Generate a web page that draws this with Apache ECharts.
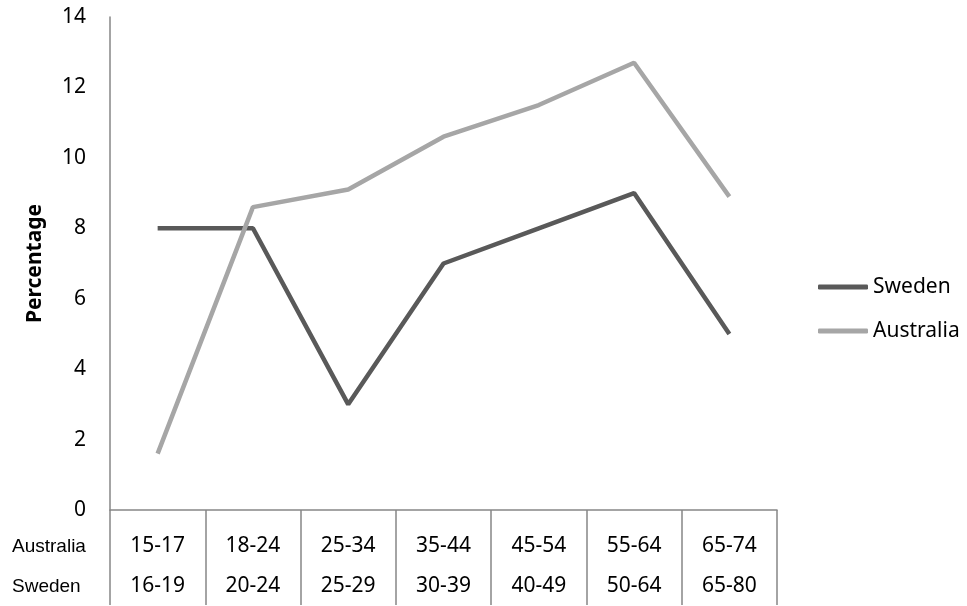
<!DOCTYPE html>
<html>
<head>
<meta charset="utf-8">
<script src="https://cdn.jsdelivr.net/npm/echarts@6/dist/echarts.min.js"></script>
<style>
  html, body { margin: 0; padding: 0; background: #fff; }
  #chart-dev { width: 967px; height: 606px; }
</style>
</head>
<body>
<div id="chart-dev"></div>
<script>
var australiaGroups = ['15-17', '18-24', '25-34', '35-44', '45-54', '55-64', '65-74'];
var swedenGroups = ['16-19', '20-24', '25-29', '30-39', '40-49', '50-64', '65-80'];
var sweden = [8, 8, 3, 7, 8, 9, 5];
var australia = [1.6, 8.6, 9.1, 10.6, 11.5, 12.7, 8.9];
var rowNames = ['Australia', 'Sweden'];

var categories = australiaGroups.map(function (a, i) {
    return a + '\n' + swedenGroups[i];
});

var dom = document.getElementById('chart-dev');
var myChart = echarts.init(dom, null, {
    renderer: 'canvas',
    useDirtyRect: false
});

var font = 'Noto Sans';
var axisGray = '#868686';

var option = {
    animation: false,
    textStyle: { fontFamily: font },
    grid: { left: 110, right: 190, top: 17, bottom: 93 },
    legend: {
        orient: 'vertical',
        left: 813,
        top: 270,
        itemGap: 20,
        itemWidth: 50,
        itemHeight: 5,
        textStyle: { fontFamily: font, fontSize: 21, color: '#000', lineHeight: 24 },
        data: [
            { name: 'Sweden', icon: 'roundRect' },
            { name: 'Australia', icon: 'roundRect' }
        ]
    },
    xAxis: {
        type: 'category',
        data: categories,
        boundaryGap: true,
        axisLine: { show: true, lineStyle: { color: axisGray, width: 1.5 } },
        axisTick: { show: true, length: 95, lineStyle: { color: axisGray, width: 1.5 } },
        axisLabel: {
            margin: 16,
            fontFamily: font,
            fontSize: 21,
            lineHeight: 40,
            color: '#000'
        },
        splitLine: { show: false }
    },
    yAxis: {
        type: 'value',
        min: 0,
        max: 14,
        interval: 2,
        name: 'Percentage',
        nameLocation: 'middle',
        nameGap: 64,
        nameTextStyle: { fontFamily: font, fontSize: 21, fontWeight: 'bold', color: '#000' },
        axisLine: { show: true, lineStyle: { color: axisGray, width: 1.5 } },
        axisTick: { show: false },
        axisLabel: { margin: 24, fontFamily: font, fontSize: 21, color: '#000' },
        splitLine: { show: false }
    },
    graphic: rowNames.map(function (n, i) {
        return {
            type: 'text',
            left: 12,
            top: 537 + i * 40,
            style: { text: n, font: '19px "Liberation Sans"', fill: '#000' }
        };
    }),
    color: ['#595959', '#a6a6a6'],
    series: [
        {
            name: 'Sweden',
            type: 'line',
            data: sweden,
            showSymbol: false,
            lineStyle: { width: 4.5, color: '#595959' },
            itemStyle: { color: '#595959' }
        },
        {
            name: 'Australia',
            type: 'line',
            data: australia,
            showSymbol: false,
            lineStyle: { width: 4.5, color: '#a6a6a6' },
            itemStyle: { color: '#a6a6a6' }
        }
    ]
};

if (option && typeof option === 'object') {
    myChart.setOption(option);
}

window.addEventListener('resize', myChart.resize);
</script>
</body>
</html>
